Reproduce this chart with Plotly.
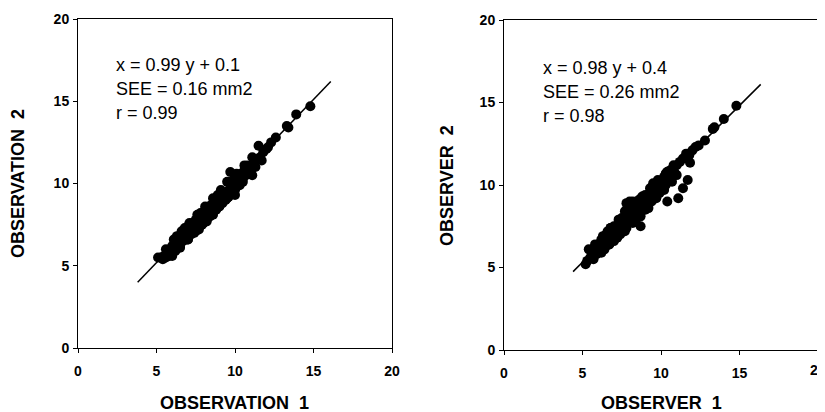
import plotly.graph_objects as go
from plotly.subplots import make_subplots

# left panel: observation 1 vs observation 2
obs1 = [5.1, 5.3, 5.4, 5.5, 5.6, 5.7, 5.8, 5.9, 6.0, 6.0, 6.1, 6.2, 6.2, 6.3, 6.4, 6.5, 6.5, 6.6,
        6.7, 6.8, 6.8, 6.9, 7.0, 7.0, 7.1, 7.2, 7.3, 7.3, 7.4, 7.5, 7.5, 7.6, 7.7, 7.8, 7.8, 7.9,
        8.0, 8.0, 8.1, 8.2, 8.2, 8.3, 8.4, 8.5, 8.5, 8.6, 8.7, 8.7, 8.8, 8.9, 8.9, 9.0, 9.1, 9.2,
        9.2, 9.3, 9.4, 9.5, 9.5, 9.6, 9.7, 9.7, 9.8, 9.9, 10.0, 10.0, 10.1, 10.2, 10.3, 10.4, 10.5,
        10.6, 10.7, 10.8, 10.9, 11.0, 11.1, 11.2, 11.3, 11.4, 11.5, 11.6, 11.7, 11.8, 12.0, 12.1,
        12.3, 12.6, 13.3, 13.4, 13.9, 14.8,
        5.6, 6.1, 6.6, 7.1, 7.6, 8.1, 8.6, 9.1, 9.6, 10.1, 10.6, 11.1,
        6.0, 6.5, 7.0, 7.5, 8.0, 8.5, 9.0, 9.5, 10.0, 10.5, 11.0]
obs2 = [5.5, 5.5, 5.4, 5.6, 5.5, 5.8, 5.6, 6.0, 5.8, 6.2, 6.0, 6.3, 5.9, 6.8, 6.4, 6.2, 6.6, 6.9,
        6.5, 7.3, 6.7, 7.0, 6.6, 7.4, 7.1, 6.9, 7.6, 7.2, 7.0, 7.8, 7.4, 7.6, 7.2, 8.2, 7.8, 7.5,
        8.3, 7.9, 8.1, 7.7, 8.5, 8.2, 8.0, 8.7, 8.4, 8.1, 9.0, 8.6, 8.4, 9.3, 8.9, 8.6, 9.1, 9.4,
        8.8, 9.2, 9.0, 10.1, 9.5, 9.2, 10.7, 9.7, 9.4, 10.0, 9.3, 10.4, 9.8, 10.1, 9.9, 10.6, 10.3,
        10.8, 10.5, 11.1, 10.7, 11.0, 10.5, 11.3, 11.0, 11.5, 12.3, 11.6, 11.4, 11.9, 12.1, 12.2,
        12.5, 12.8, 13.5, 13.4, 14.2, 14.7,
        6.0, 6.6, 7.1, 7.6, 8.1, 8.6, 9.1, 9.6, 10.1, 10.6, 11.1, 11.6,
        5.6, 6.1, 6.6, 7.1, 7.6, 8.1, 8.6, 9.1, 9.6, 10.1, 10.6]

# right panel: observer 1 vs observer 2
obsr1 = [5.2, 5.3, 5.4, 5.5, 5.6, 5.7, 5.8, 5.9, 6.0, 6.1, 6.2, 6.2, 6.3, 6.4, 6.5, 6.5, 6.6, 6.7,
         6.7, 6.8, 6.9, 7.0, 7.0, 7.1, 7.2, 7.3, 7.3, 7.4, 7.5, 7.5, 7.6, 7.7, 7.7, 7.8, 7.8, 7.9,
         8.0, 8.0, 8.1, 8.2, 8.2, 8.3, 8.4, 8.5, 8.5, 8.6, 8.7, 8.7, 8.8, 8.9, 9.0, 9.0, 9.2, 9.3,
         9.4, 9.5, 9.6, 9.7, 9.8, 9.9, 10.0, 10.1, 10.2, 10.3, 10.4, 10.4, 10.5, 10.6, 10.8, 10.9,
         11.0, 11.1, 11.2, 11.4, 11.4, 11.6, 11.7, 11.8, 11.85, 12.0, 12.2, 12.4, 12.8, 13.3, 13.4,
         14.0, 14.8,
         5.8, 6.3, 6.8, 7.3, 7.8, 8.3, 8.8, 9.3, 9.8, 10.3, 10.8,
         6.2, 6.7, 7.2, 7.7, 8.2, 8.7, 9.2, 9.7, 10.2, 10.7, 11.0]
obsr2 = [5.2, 5.4, 6.1, 5.6, 5.9, 5.5, 6.2, 5.8, 6.4, 6.0, 6.7, 6.2, 6.5, 6.1, 7.0, 6.6, 7.2, 6.8,
         6.4, 7.4, 7.0, 6.6, 7.5, 7.2, 6.8, 7.7, 7.3, 7.0, 8.0, 7.5, 7.2, 8.4, 7.8, 8.9, 7.4, 8.2,
         9.0, 7.8, 8.6, 8.0, 9.0, 8.4, 7.9, 8.8, 8.2, 9.1, 7.5, 8.5, 9.2, 8.8, 9.4, 8.5, 9.1, 9.5,
         9.0, 10.1, 9.6, 9.2, 10.0, 9.5, 10.2, 9.8, 10.5, 10.0, 9.0, 10.8, 10.4, 10.9, 11.0, 10.7,
         11.2, 9.2, 11.4, 9.8, 11.6, 11.9, 10.3, 11.8, 11.35, 12.1, 12.3, 12.4, 12.7, 13.4, 13.5,
         14.0, 14.8,
         6.4, 6.9, 7.4, 7.9, 8.5, 8.9, 9.3, 9.8, 10.3, 10.7, 11.2,
         5.9, 6.4, 6.8, 7.2, 7.7, 8.1, 8.6, 9.3, 9.7, 10.2, 10.6]

# regression line end points
fit_left_x = [3.8, 16.1]
fit_left_y = [4.0, 16.2]
fit_right_x = [4.4, 16.35]
fit_right_y = [4.75, 16.1]

text_left = ["x = 0.99 y + 0.1", "SEE = 0.16 mm2", "r = 0.99"]
text_right = ["x = 0.98 y + 0.4", "SEE = 0.26 mm2", "r = 0.98"]
tick_vals = [0, 5, 10, 15, 20]

# page body has an 8px margin, so the figure is 8px smaller each way
W, H, OFF = 817, 404, 8


def px(x):
    return (x - OFF) / W


def py(y):
    return (H + OFF - y) / H


fig = make_subplots(rows=1, cols=2)

for col, (xs, ys, fx, fy) in enumerate([(obs1, obs2, fit_left_x, fit_left_y),
                                         (obsr1, obsr2, fit_right_x, fit_right_y)], start=1):
    fig.add_trace(go.Scatter(x=fx, y=fy, mode="lines",
                             line=dict(color="black", width=1.5),
                             showlegend=False), row=1, col=col)
    fig.add_trace(go.Scatter(x=xs, y=ys, mode="markers",
                             marker=dict(color="black", size=10, line=dict(width=0)),
                             showlegend=False), row=1, col=col)

tick_font = dict(family="Liberation Sans", size=14, color="black", weight="bold")
axis_style = dict(range=[0, 20], tickvals=tick_vals, showgrid=False, zeroline=False,
                  showline=True, linecolor="black", linewidth=1, mirror=True,
                  ticks="outside", ticklen=4, tickcolor="black", automargin=False,
                  tickfont=tick_font)

fig.update_xaxes(ticklabelstandoff=6, **axis_style)
fig.update_yaxes(ticklabelstandoff=1, **axis_style)
fig.update_layout(
    width=W, height=H,
    margin=dict(l=0, r=0, t=0, b=0),
    plot_bgcolor="white", paper_bgcolor="white",
    xaxis=dict(domain=[px(78), px(392)]),
    xaxis2=dict(domain=[px(504), px(818)]),
    yaxis=dict(domain=[py(348), py(19)]),
    yaxis2=dict(domain=[py(350), py(20)]),
    font=dict(family="Liberation Sans", color="black"),
)

# the right panel's last x tick label runs off the page edge; plotly drops it, so place it by hand
fig.add_annotation(text=str(tick_vals[-1]), xref="x2", yref="paper", x=tick_vals[-1], y=py(370),
                   showarrow=False, xanchor="center", yanchor="middle", font=tick_font)

title_font = dict(family="Liberation Sans", size=18, color="black")
fig.add_annotation(text="<b>OBSERVATION&nbsp;&nbsp;1</b>", xref="paper", yref="paper",
                   x=px(234), y=py(403), showarrow=False,
                   xanchor="center", yanchor="middle", font=title_font)
fig.add_annotation(text="<b>OBSERVER&nbsp;&nbsp;1</b>", xref="paper", yref="paper",
                   x=px(661), y=py(403), showarrow=False,
                   xanchor="center", yanchor="middle", font=title_font)
fig.add_annotation(text="<b>OBSERVATION&nbsp;&nbsp;2</b>", xref="paper", yref="paper",
                   x=px(18), y=py(184), showarrow=False, textangle=-90,
                   xanchor="center", yanchor="middle", font=title_font)
fig.add_annotation(text="<b>OBSERVER&nbsp;&nbsp;2</b>", xref="paper", yref="paper",
                   x=px(447), y=py(185), showarrow=False, textangle=-90,
                   xanchor="center", yanchor="middle", font=title_font)

text_font = dict(family="Liberation Sans", size=18, color="black")
for line, yv in zip(text_left, [17.2, 15.75, 14.3]):
    fig.add_annotation(text=line, xref="x", yref="y", x=2.3, y=yv, showarrow=False,
                       xanchor="left", yanchor="middle", font=text_font)
for line, yv in zip(text_right, [17.1, 15.65, 14.2]):
    fig.add_annotation(text=line, xref="x2", yref="y2", x=2.35, y=yv, showarrow=False,
                       xanchor="left", yanchor="middle", font=text_font)

fig.write_html("out.html")
